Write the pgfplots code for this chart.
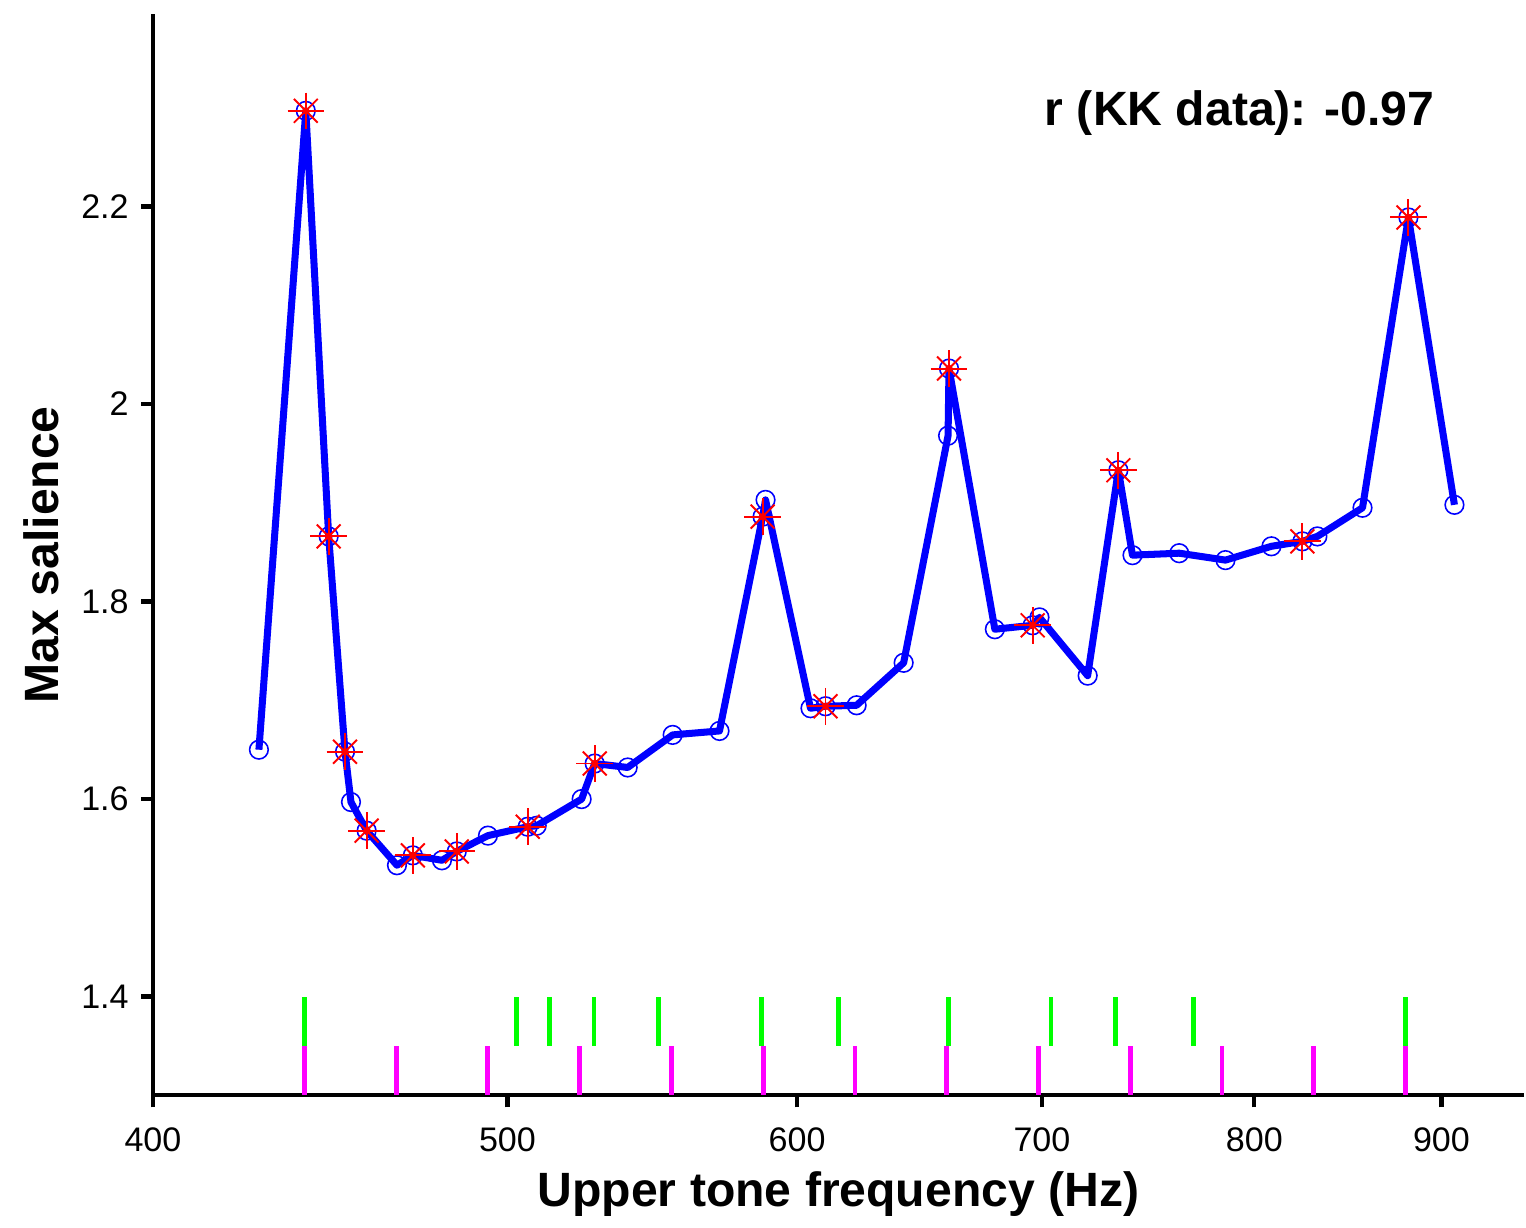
\documentclass[border=0pt]{standalone}
\usepackage{fontspec}
\setmainfont{Liberation Sans}
\usepackage{pgfplots}
\pgfplotsset{compat=1.18}
\definecolor{jigreen}{rgb}{0,1,0}
\definecolor{etmagenta}{rgb}{1,0,1}
\definecolor{lineblue}{rgb}{0,0,1}
\definecolor{starred}{rgb}{1,0,0}

\begin{document}
\begin{tikzpicture}
\begin{axis}[
  scale only axis,
  width=390.3pt, height=307.8pt,
  xmode=log,
  xmin=400, xmax=948,
  ymin=1.3, ymax=2.395,
  axis lines*=left,
  axis line style={line width=1.2pt},
  tick style={line width=1.2pt, black},
  tick align=outside,
  major tick length=3.4pt,
  xtick={400,500,600,700,800,900},
  xticklabels={400,500,600,700,800,900},
  minor xtick={},
  ytick={1.4,1.6,1.8,2,2.2},
  yticklabels={1.4,1.6,1.8,2,2.2},
  ticklabel style={font=\fontsize{9.7}{11}\selectfont},
  xticklabel style={yshift=-2.3pt},
  /pgf/number format/assume math mode=true,
  xlabel={Upper tone frequency (Hz)},
  ylabel={Max salience},
  label style={font=\fontsize{13.7}{16}\selectfont\bfseries},
  xlabel style={at={(axis description cs:0.5,-0.1026)}, anchor=base},
  ylabel style={at={(axis description cs:-0.0692,0.5)}, anchor=base},
  clip=false,
]
% just-intonation ratios (green) and equal-tempered semitones (magenta)
\addplot[draw=none, mark=none, forget plot, error bars/.cd, y dir=both, y fixed=0.025,
  error mark=none, error bar style={line width=1.4pt, draw=jigreen}]
  coordinates {(440,1.375) (502.857,1.375) (513.333,1.375) (528,1.375)
               (550,1.375) (586.667,1.375) (616,1.375) (660,1.375)
               (704,1.375) (733.333,1.375) (770,1.375) (880,1.375)};
\addplot[draw=none, mark=none, forget plot, error bars/.cd, y dir=both, y fixed=0.025,
  error mark=none, error bar style={line width=1.4pt, draw=etmagenta}]
  coordinates {(440,1.325) (466.164,1.325) (493.883,1.325) (523.251,1.325)
               (554.365,1.325) (587.330,1.325) (622.254,1.325) (659.255,1.325)
               (698.456,1.325) (739.989,1.325) (783.991,1.325) (830.609,1.325)
               (880,1.325)};
% salience curve
\pgfplotstableread{
x y
427.6 1.650
440.4 2.297
446.8 1.866
451.4 1.648
453.1 1.597
457.6 1.568
466.4 1.533
471.1 1.543
479.8 1.538
484.3 1.547
493.9 1.563
506.4 1.572
509.3 1.573
523.9 1.600
528.2 1.636
539.3 1.632
554.8 1.665
571.4 1.669
587.1 1.886
588.2 1.903
605.1 1.692
610.8 1.694
622.9 1.695
641.6 1.738
659.8 1.968
660.2 2.036
679.5 1.772
695.9 1.776
698.9 1.784
720.4 1.725
734.5 1.933
741.0 1.847
763.2 1.849
785.7 1.842
808.7 1.856
824.6 1.861
832.4 1.866
856.4 1.895
881.5 2.189
907.4 1.898
}\curve
\addplot[lineblue, line width=2pt, mark=none, line join=round] table {\curve};
\addplot[lineblue, only marks, mark=o, mark size=2.65pt, line width=0.45pt] table {\curve};
% highlighted points
\pgfplotstableread{
x y
440.4 2.297
446.8 1.866
451.4 1.648
457.6 1.568
471.1 1.543
484.3 1.547
506.4 1.572
528.2 1.636
587.1 1.886
610.8 1.694
660.2 2.036
695.9 1.776
734.5 1.933
824.6 1.861
881.5 2.189
}\stars
\addplot[starred, only marks, mark=+, mark size=5.2pt, line width=0.55pt] table {\stars};
\addplot[starred, only marks, mark=x, mark size=4.8pt, line width=0.55pt] table {\stars};
\addplot[starred, only marks, mark=*, mark size=0.8pt] table {\stars};
\node[anchor=base west, inner sep=0, font=\fontsize{13.7}{16}\selectfont\bfseries]
  at (axis cs:701,2.282) {r (KK data): -0.97};
\end{axis}
\path (current axis.south west) ++(-43.5pt,-35.3pt);
\path (current axis.north east) ++(0.3pt,4pt);
\end{tikzpicture}
\end{document}
